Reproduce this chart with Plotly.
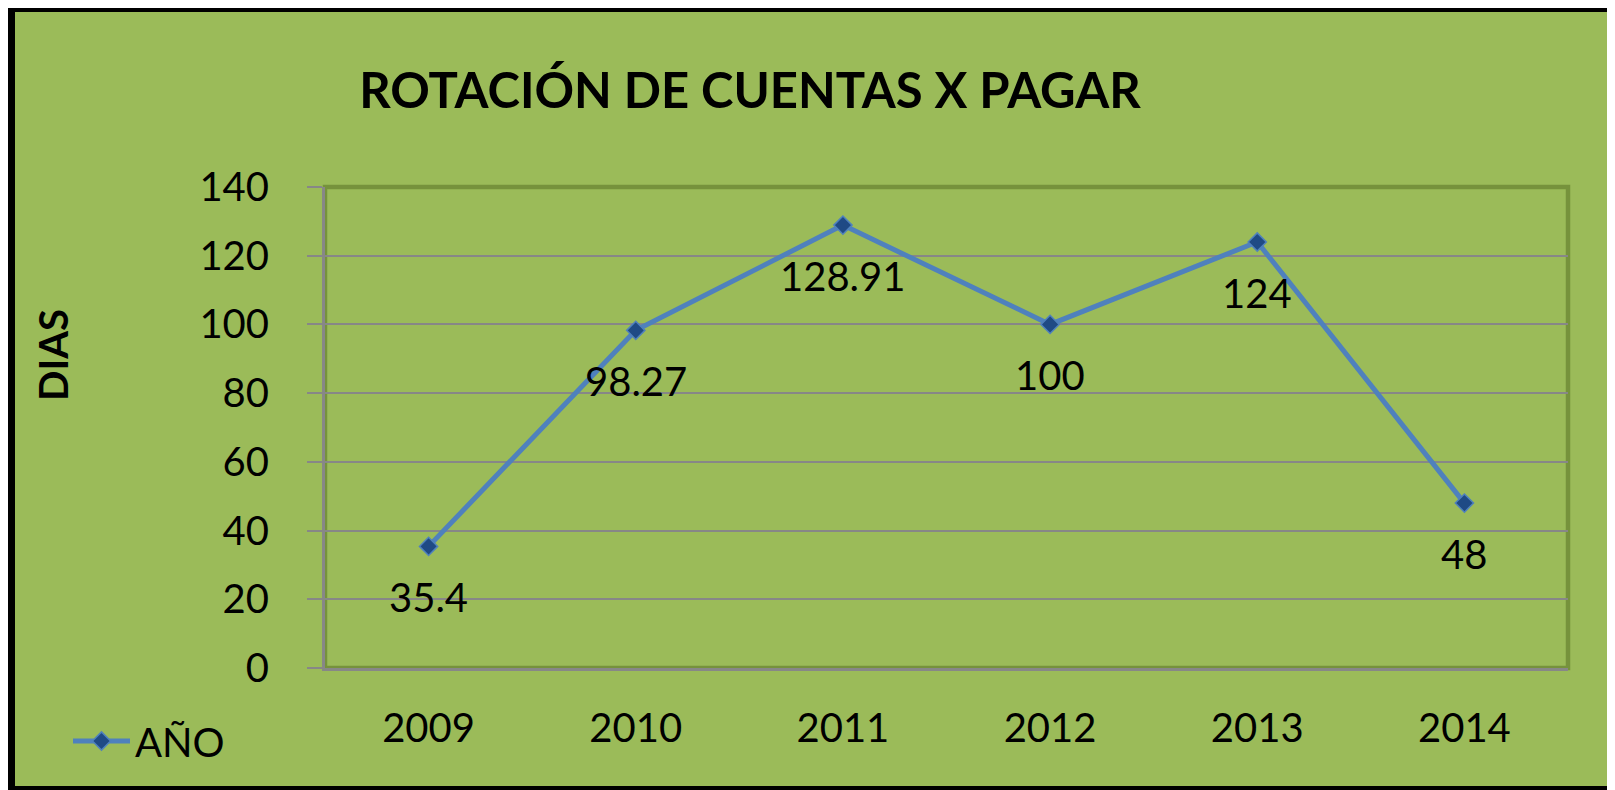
import plotly.graph_objects as go

# ---- data ----
years = ["2009", "2010", "2011", "2012", "2013", "2014"]
dias = [35.4, 98.27, 128.91, 100, 124, 48]
labels = ["35.4", "98.27", "128.91", "100", "124", "48"]
y_ticks = [0, 20, 40, 60, 80, 100, 120, 140]

title_text = "ROTACIÓN DE CUENTAS X PAGAR"
y_title = "DIAS"
series_name = "AÑO"

# ---- layout constants (figure pixels; page has an 8px body margin) ----
W, H = 1607, 782
L, R, T, B = 317, 47, 179, 122
PW, PH = W - L - R, H - T - B
GREEN = "#9BBB59"
FONT = "Lato"


def px_x(px):
    return (px - L) / PW


def px_y(py):
    return (H - B - py) / PH


fig = go.Figure()
fig.add_trace(go.Scatter(
    x=years, y=dias, name=series_name, mode="lines+markers",
    line=dict(color="#4F81BD", width=5),
    marker=dict(symbol="diamond", size=14, color="#1F4A85",
                line=dict(color="#4F81BD", width=1.5)),
))

# data labels below each point (x given as category index)
for i, (yv, t) in enumerate(zip(dias, labels)):
    fig.add_annotation(x=i, y=yv, text=t, showarrow=False, yshift=-51,
                       xanchor="center", yanchor="middle",
                       font=dict(family=FONT, size=40, color="black"))

# y axis title
fig.add_annotation(xref="paper", yref="paper", x=px_x(45), y=px_y(347),
                   xanchor="center", yanchor="middle",
                   text=y_title, textangle=-90, showarrow=False,
                   font=dict(family=FONT, size=40, color="black", weight="bold"))

# outer black frame with green fill
fig.add_shape(type="rect", xref="paper", yref="paper", layer="below",
              x0=px_x(3.5), x1=px_x(1605.5), y0=px_y(0.5), y1=px_y(781.5),
              line=dict(color="black", width=7), fillcolor=GREEN)
# plot area frame (dark green)
fig.add_shape(type="rect", xref="paper", yref="paper", layer="below",
              x0=0, x1=1, y0=0, y1=1,
              line=dict(color="#76923C", width=4.5), fillcolor=GREEN)

fig.update_layout(
    width=W, height=H,
    margin=dict(l=L, r=R, t=T, b=B),
    paper_bgcolor="white",
    plot_bgcolor="rgba(0,0,0,0)",
    font=dict(family=FONT, size=40, color="black"),
    title=dict(text=title_text, x=742 / W, xanchor="center",
               y=1 - 83 / H, yanchor="middle",
               font=dict(family=FONT, size=49, color="black", weight="bold")),
    showlegend=True,
    legend=dict(x=px_x(60), y=px_y(733), xanchor="left", yanchor="middle",
                bgcolor="rgba(0,0,0,0)", itemwidth=57,
                font=dict(family=FONT, size=40, color="black")),
    xaxis=dict(type="category", categoryorder="array", categoryarray=years,
               range=[-0.5, len(years) - 0.5],
               showgrid=False, showline=True, linecolor="#878787", linewidth=3,
               ticks="outside", ticklen=23, tickcolor="rgba(0,0,0,0)",
               zeroline=False,
               tickfont=dict(family=FONT, size=40, color="black")),
    yaxis=dict(range=[0, 140], tickvals=y_ticks, showgrid=True,
               gridcolor="#878787", gridwidth=1.5, showline=True,
               linecolor="#878787", linewidth=3, ticks="outside", ticklen=15,
               tickcolor="#878787", tickwidth=2, ticklabelstandoff=30,
               zeroline=False,
               tickfont=dict(family=FONT, size=40, color="black")),
)

fig.write_html("out.html")
